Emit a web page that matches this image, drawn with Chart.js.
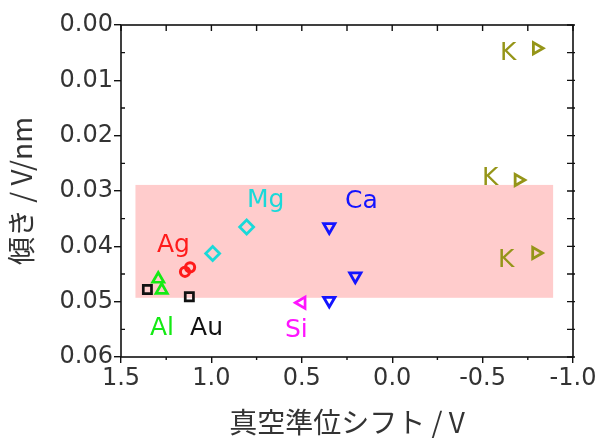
<!DOCTYPE html>
<html><head><meta charset="utf-8">
<script src="https://cdn.jsdelivr.net/npm/chart.js@4.4.1/dist/chart.umd.min.js"></script>
<style>html,body{margin:0;padding:0;background:#fff;}canvas{display:block;}</style>
</head><body>
<canvas id="c" width="602" height="439"></canvas>
<script>
// ---- data ----
const xTicks = [1.5, 1.0, 0.5, 0.0, -0.5, -1.0];
const xMinorTicks = [1.25, 0.75, 0.25, -0.25, -0.75];
const yTicks = [0.00, 0.01, 0.02, 0.03, 0.04, 0.05, 0.06];
const yMinorTicks = [0.005, 0.015, 0.025, 0.035, 0.045, 0.055];

const mgX = [0.805, 0.993];          const mgY = [0.0365, 0.0413];
const caX = [0.348, 0.204, 0.348];   const caY = [0.0365, 0.0454, 0.0498];
const agX = [1.146, 1.118];          const agY = [0.0446, 0.0438];
const alX = [1.294, 1.275];          const alY = [0.0459, 0.0479];
const auX = [1.354, 1.122];          const auY = [0.0478, 0.0491];
const siX = [0.50];                  const siY = [0.0502];
const kX  = [-0.799, -0.698, -0.795]; const kY = [0.0042, 0.0280, 0.0412];

const bandX = [1.42, -0.89];
const bandY = [0.0289, 0.0493];

const labelText = ['Mg', 'Ca', 'Ag', 'Al', 'Au', 'Si', 'K', 'K', 'K'];
const labelX = [0.803, 0.261, 1.301, 1.34, 1.118, 0.593, -0.596, -0.497, -0.585];
const labelY = [0.0329, 0.0331, 0.0410, 0.0560, 0.0560, 0.0564, 0.0063, 0.0289, 0.0437];

const xTitle = '真空準位シフト / V';
const yTitle = '傾き / V/nm';

// ---- styles ----
const colors = { Mg: '#1ad9d9', Ca: '#1414ff', Ag: '#ff1a1a', Al: '#14ea14', Au: '#111111', Si: '#ff14ff', K: '#959518' };
const TXT = '#333333';
const tickFont = { family: 'DejaVu Sans', size: 24 };

function pts(xs, ys) { return xs.map((v, i) => ({ x: v, y: ys[i] })); }
function ds(name, xs, ys, style, rot, r, bw) {
  return {
    label: name, data: pts(xs, ys), showLine: false,
    pointStyle: style, rotation: rot, pointRadius: r, pointHoverRadius: r,
    borderColor: colors[name], backgroundColor: 'rgba(0,0,0,0)', pointBorderWidth: bw, borderWidth: bw
  };
}

const decor = {
  id: 'decor',
  beforeDatasetsDraw(chart) {
    const { ctx, scales: { x, y } } = chart;
    const x0 = x.getPixelForValue(bandX[0]), x1 = x.getPixelForValue(bandX[1]);
    const y0 = y.getPixelForValue(bandY[0]), y1 = y.getPixelForValue(bandY[1]);
    ctx.save();
    ctx.fillStyle = '#ffcccc';
    ctx.fillRect(Math.min(x0, x1), Math.min(y0, y1), Math.abs(x1 - x0), Math.abs(y1 - y0));
    ctx.restore();
  },
  afterDatasetsDraw(chart) {
    const { ctx, chartArea: a, scales: { x, y } } = chart;
    ctx.save();
    ctx.font = '25px "DejaVu Sans"';
    ctx.textAlign = 'left';
    ctx.textBaseline = 'alphabetic';
    labelText.forEach((t, i) => {
      ctx.fillStyle = colors[t];
      ctx.fillText(t, x.getPixelForValue(labelX[i]), y.getPixelForValue(labelY[i]));
    });
    ctx.strokeStyle = '#111';
    ctx.lineWidth = 1.6;
    ctx.strokeRect(a.left, a.top, a.right - a.left, a.bottom - a.top);
    ctx.lineWidth = 1.4;
    ctx.beginPath();
    xTicks.concat(xMinorTicks).forEach(v => {
      const px = x.getPixelForValue(v);
      ctx.moveTo(px, a.top); ctx.lineTo(px, a.top + 6);
    });
    xMinorTicks.forEach(v => {
      const px = x.getPixelForValue(v);
      ctx.moveTo(px, a.bottom); ctx.lineTo(px, a.bottom + 3);
    });
    yTicks.concat(yMinorTicks).forEach(v => {
      const py = y.getPixelForValue(v);
      ctx.moveTo(a.right - 6, py); ctx.lineTo(a.right + 2, py);
    });
    yMinorTicks.forEach(v => {
      const py = y.getPixelForValue(v);
      ctx.moveTo(a.left, py); ctx.lineTo(a.left + 4, py);
    });
    ctx.stroke();
    ctx.restore();
  }
};

new Chart(document.getElementById('c'), {
  type: 'scatter',
  data: {
    datasets: [
      ds('Mg', mgX, mgY, 'rectRot', 0, 7, 2.7),
      ds('Ca', caX, caY, 'triangle', 180, 6.5, 2.8),
      ds('Ag', agX, agY, 'circle', 0, 4.6, 3),
      ds('Al', alX, alY, 'triangle', 0, 6.5, 2.7),
      ds('Au', auX, auY, 'rect', 0, 5.8, 2.7),
      ds('Si', siX, siY, 'triangle', 270, 6.5, 2.7),
      ds('K', kX, kY, 'triangle', 90, 6.5, 2.8)
    ]
  },
  options: {
    responsive: false, animation: false, devicePixelRatio: 1,
    layout: { padding: { left: 0, right: 29, top: 25, bottom: 0 } },
    plugins: { legend: { display: false }, tooltip: { enabled: false } },
    scales: {
      x: {
        type: 'linear', reverse: true, min: -1.0, max: 1.5,
        afterBuildTicks: s => { s.ticks = xTicks.map(v => ({ value: v })); },
        afterFit: s => { s.height = 82; },
        ticks: { font: tickFont, color: TXT, padding: 1, maxRotation: 0, autoSkip: false,
                 callback: v => Number(v).toFixed(1) },
        grid: { display: true, drawOnChartArea: false, drawTicks: true, tickLength: 6, color: '#111', lineWidth: 1.4 },
        border: { display: false },
        title: { display: true, text: xTitle, color: TXT, font: { family: 'Noto Sans CJK JP', size: 28 }, padding: { top: 0, bottom: 0 } }
      },
      y: {
        type: 'linear', reverse: true, min: 0, max: 0.06,
        afterBuildTicks: s => { s.ticks = yTicks.map(v => ({ value: v })); },
        afterFit: s => { s.width = 121; },
        ticks: { font: tickFont, color: TXT, padding: 1, autoSkip: false,
                 callback: v => Number(v).toFixed(2) },
        grid: { display: true, drawOnChartArea: false, drawTicks: true, tickLength: 7, color: '#111', lineWidth: 1.4 },
        border: { display: false },
        title: { display: true, text: yTitle, color: TXT, font: { family: 'Noto Sans CJK JP', size: 28 }, padding: { top: 5, bottom: 0 } }
      }
    }
  },
  plugins: [decor]
});
</script>
</body></html>
